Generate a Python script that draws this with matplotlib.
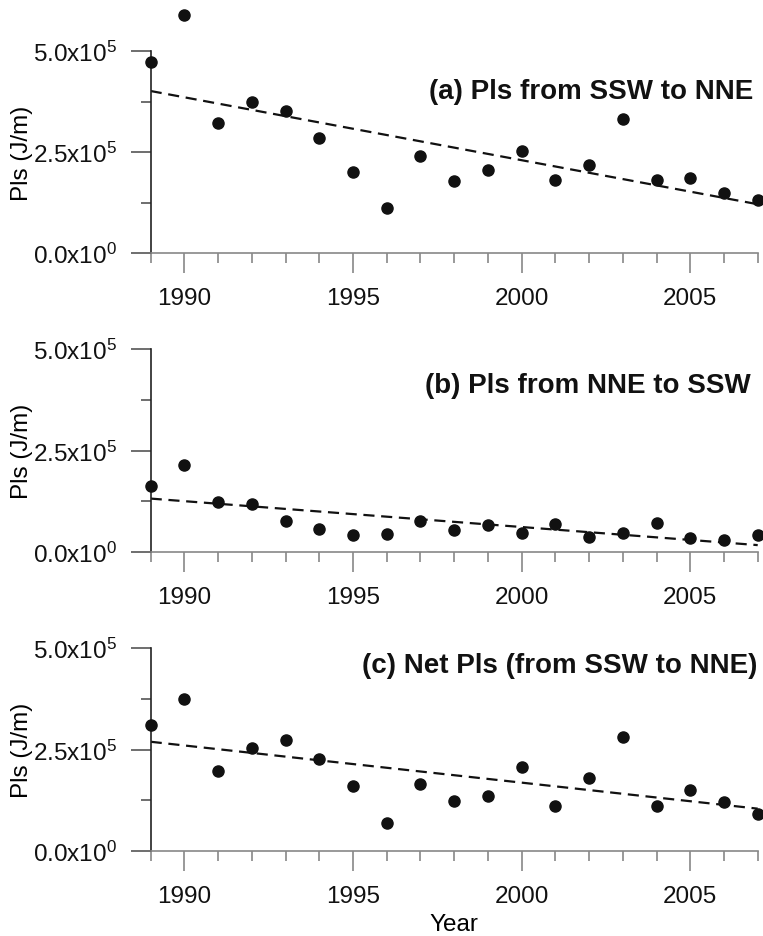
import numpy as np
import matplotlib
matplotlib.use("Agg")
import matplotlib.pyplot as plt
from matplotlib.ticker import MultipleLocator, FuncFormatter

plt.rcParams.update({
    "font.family": ["Liberation Sans", "DejaVu Sans"],
    "mathtext.fontset": "custom",
    "mathtext.rm": "Liberation Sans",
    "mathtext.it": "Liberation Sans:italic",
    "mathtext.bf": "Liberation Sans:bold",
    "font.size": 17.5,
})

years = np.arange(1989, 2008)
pls_a = [4.72, 5.89, 3.22, 3.73, 3.51, 2.84, 2.00, 1.11, 2.41, 1.79,
         2.05, 2.53, 1.81, 2.17, 3.32, 1.81, 1.86, 1.49, 1.30]
pls_b = [1.62, 2.14, 1.24, 1.19, 0.77, 0.57, 0.41, 0.44, 0.76, 0.55,
         0.67, 0.46, 0.69, 0.36, 0.48, 0.71, 0.34, 0.30, 0.41]
pls_c = [3.10, 3.74, 1.98, 2.54, 2.74, 2.27, 1.60, 0.69, 1.65, 1.23,
         1.36, 2.07, 1.12, 1.81, 2.82, 1.12, 1.51, 1.21, 0.91]
titles = ["(a) Pls from SSW to NNE", "(b) Pls from NNE to SSW",
          "(c) Net Pls (from SSW to NNE)"]
title_pos = [(0.992, 0.80), (0.989, 0.822), (0.9995, 0.915)]

W, H = 763, 937
fig = plt.figure(figsize=(W / 100, H / 100), dpi=100)
# panel boxes in pixels (left, top, right, bottom)
boxes = [(150.7, 52, 757.7, 254), (150.7, 350, 757.7, 553), (150.7, 649, 757.7, 852)]


def yfmt(v, pos):
    if v == 0:
        return r"0.0x10$^{0}$"
    e = int(np.floor(np.log10(abs(v))))
    return f"{v / 10**e:.1f}x10$^{{{e}}}$"


for k, (vals, ttl, (tx, ty), (l, t, r, b)) in enumerate(zip([pls_a, pls_b, pls_c], titles, title_pos, boxes)):
    ax = fig.add_axes([l / W, 1 - b / H, (r - l) / W, (b - t) / H])
    y = np.array(vals) * 1e5
    ax.plot(years, y, "o", color="#111111", ms=8, clip_on=False, zorder=3)
    slope, icpt = np.polyfit(years, y, 1)
    ax.plot(years, slope * years + icpt, color="#111111", lw=1.6,
            dashes=(5, 3), zorder=2)
    ax.set_xlim(1989, 2007)
    ax.set_ylim(0, 5e5)
    for s in ("top", "right"):
        ax.spines[s].set_visible(False)
    ax.spines["left"].set_color("#222222")
    ax.spines["bottom"].set_color("#888888")
    ax.spines["left"].set_linewidth(1.2)
    ax.spines["bottom"].set_linewidth(1.2)
    ax.xaxis.set_major_locator(MultipleLocator(5))
    ax.xaxis.set_minor_locator(MultipleLocator(1))
    ax.yaxis.set_major_locator(MultipleLocator(2.5e5))
    ax.yaxis.set_minor_locator(MultipleLocator(1.25e5))
    ax.yaxis.set_major_formatter(FuncFormatter(yfmt))
    ax.tick_params(axis="x", which="major", direction="out", length=14.5, width=1.2,
                   color="#888888", pad=10)
    ax.tick_params(axis="x", which="minor", direction="out", length=7.5, width=1.2,
                   color="#888888")
    ax.tick_params(axis="y", which="major", direction="out", length=14.5, width=1.2,
                   color="#555555", pad=10)
    ax.tick_params(axis="y", which="minor", direction="out", length=7.5, width=1.2,
                   color="#555555")
    ax.tick_params(labelsize=17.5, labelcolor="#111111")
    ax.set_ylabel("Pls (J/m)", fontsize=17.5)
    ax.yaxis.set_label_coords(-0.194, 0.5)
    ax.text(tx, ty, ttl, transform=ax.transAxes, ha="right", va="center",
            fontsize=20, fontweight="bold", color="#111111")
    if k == 2:
        ax.set_xlabel("Year", fontsize=17.5, labelpad=4)

fig.savefig("out.png", dpi=100)
